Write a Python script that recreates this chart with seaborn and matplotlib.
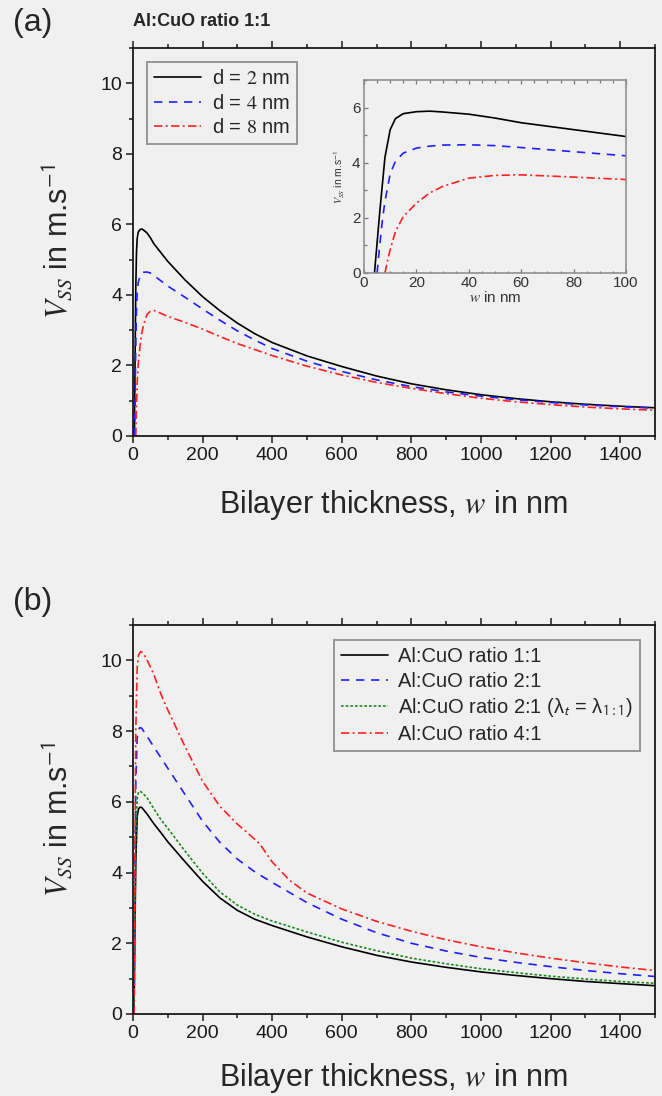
import matplotlib.pyplot as plt
import seaborn as sns
from matplotlib.ticker import MultipleLocator

w_d2 = [4, 6, 8, 10, 12, 15, 20, 25, 30, 40, 50, 60, 80, 100, 150, 200, 250, 300, 350, 400,
        500, 600, 700, 800, 900, 1000, 1100, 1200, 1300, 1400, 1500]
v_d2 = [0, 2.2, 4.2, 5.2, 5.6, 5.78, 5.85, 5.87, 5.84, 5.76, 5.62, 5.45, 5.2, 4.95, 4.42, 3.95,
        3.55, 3.2, 2.9, 2.65, 2.27, 1.97, 1.7, 1.48, 1.31, 1.17, 1.06, 0.97, 0.9, 0.845, 0.80]

w_d4 = [5, 6, 7, 8, 10, 12, 15, 20, 25, 30, 40, 50, 60, 80, 100, 150, 200, 250, 300, 350, 400,
        500, 600, 700, 800, 900, 1000, 1100, 1200, 1300, 1400, 1500]
v_d4 = [0, 1.0, 1.9, 2.6, 3.6, 4.05, 4.35, 4.53, 4.6, 4.64, 4.65, 4.62, 4.55, 4.4, 4.25, 3.93,
        3.6, 3.28, 2.98, 2.72, 2.48, 2.12, 1.83, 1.59, 1.4, 1.25, 1.13, 1.03, 0.95, 0.88, 0.83, 0.79]

w_d8 = [8, 9, 10, 12, 15, 20, 25, 30, 40, 50, 60, 75, 100, 150, 200, 250, 300, 400, 500, 600,
        700, 800, 900, 1000, 1100, 1200, 1300, 1400, 1500]
v_d8 = [0, 0.45, 0.85, 1.5, 2.05, 2.53, 2.9, 3.14, 3.44, 3.54, 3.56, 3.5, 3.39, 3.22, 3.03, 2.82,
        2.62, 2.28, 1.98, 1.73, 1.52, 1.35, 1.2, 1.07, 0.97, 0.89, 0.82, 0.77, 0.73]

# Panel (b): different Al:CuO ratios
w_ratio = [3, 5, 8, 12, 16, 20, 25, 40, 60, 80, 100, 150, 200, 250, 300, 350, 400, 500, 600,
           700, 800, 900, 1000, 1100, 1200, 1300, 1400, 1500]
v_11 = [0, 2.0, 4.3, 5.6, 5.8, 5.85, 5.84, 5.66, 5.38, 5.13, 4.87, 4.3, 3.75, 3.28, 2.93, 2.68,
        2.5, 2.18, 1.9, 1.66, 1.47, 1.32, 1.19, 1.09, 1.0, 0.92, 0.86, 0.80]
v_21 = [0, 3.5, 6.5, 7.8, 8.05, 8.1, 8.08, 7.86, 7.55, 7.25, 6.95, 6.2, 5.45, 4.85, 4.38, 4.02,
        3.72, 3.15, 2.68, 2.3, 2.0, 1.78, 1.6, 1.46, 1.34, 1.23, 1.14, 1.06]
v_21_lam = [0, 2.5, 5.0, 6.1, 6.28, 6.3, 6.27, 6.12, 5.8, 5.5, 5.25, 4.6, 3.98, 3.45, 3.08, 2.82,
            2.63, 2.32, 2.03, 1.79, 1.58, 1.42, 1.28, 1.17, 1.07, 0.99, 0.92, 0.87]

w_41 = [3, 5, 8, 12, 16, 22, 30, 45, 60, 80, 100, 150, 200, 250, 300, 350, 365, 400, 450, 500,
        600, 700, 800, 900, 1000, 1100, 1200, 1300, 1400, 1500]
v_41 = [0, 4.0, 8.0, 9.8, 10.15, 10.25, 10.2, 9.92, 9.6, 9.05, 8.6, 7.55, 6.58, 5.87, 5.37, 4.94,
        4.8, 4.3, 3.78, 3.42, 2.97, 2.62, 2.34, 2.1, 1.9, 1.73, 1.58, 1.45, 1.33, 1.23]

BG = '#f0f0f0'
sns.set_theme(style='ticks')
plt.rcParams['font.family'] = ['Liberation Sans', 'DejaVu Sans']
plt.rcParams['mathtext.fontset'] = 'stix'
plt.rcParams['figure.facecolor'] = BG
plt.rcParams['axes.facecolor'] = BG
plt.rcParams['savefig.facecolor'] = BG

SOLID = '-'
DASH = (0, (5, 4))
DOT = (0, (1.6, 1.2))
DASHDOT = (0, (5, 2, 1.2, 2))

XLABEL = r'Bilayer thickness, $w$ in nm'
YLABEL = r'$V_{SS}$ in m.s$^{\mathsf{-1}}$'


def draw(ax, w, v, color, ls, label=None, lw=1.2):
    sns.lineplot(x=w, y=v, ax=ax, color=color, linestyle=ls, linewidth=lw,
                 label=label, estimator=None, errorbar=None, sort=False, legend=False)


def style_main(ax, xlab_y):
    ax.set_xlim(0, 1500)
    ax.set_ylim(0, 11)
    ax.xaxis.set_major_locator(MultipleLocator(200))
    ax.xaxis.set_minor_locator(MultipleLocator(100))
    ax.yaxis.set_major_locator(MultipleLocator(2))
    ax.yaxis.set_minor_locator(MultipleLocator(1))
    ax.tick_params(which='both', direction='out', top=True, right=False, labeltop=False,
                   color='#1a1a1a', labelcolor='#1a1a1a', width=1.1, labelsize=14, pad=3)
    ax.tick_params(which='major', length=4.7)
    ax.tick_params(which='minor', length=2.9)
    for s in ax.spines.values():
        s.set_color('#1a1a1a')
        s.set_linewidth(1.3)
    ax.set_xlabel(XLABEL, fontsize=22)
    ax.set_ylabel(YLABEL, fontsize=22)
    ax.xaxis.set_label_coords(0.5, xlab_y)
    ax.yaxis.set_label_coords(-0.111, 0.5)


def legend_box(ax, **kw):
    leg = ax.legend(fontsize=14.5, frameon=True, fancybox=False, handlelength=2.35,
                    handletextpad=0.5, borderaxespad=0, labelspacing=0.28, borderpad=0.35, **kw)
    leg.get_frame().set_edgecolor('#808080')
    leg.get_frame().set_linewidth(1.4)
    leg.get_frame().set_facecolor(BG)
    return leg


fig = plt.figure(figsize=(6.62, 10.96), dpi=100)
ax_a = fig.add_axes([133 / 662, 1 - 436 / 1096, 522 / 662, 388 / 1096])
ax_b = fig.add_axes([133 / 662, 1 - 1014 / 1096, 522 / 662, 389 / 1096])
ax_in = fig.add_axes([364 / 662, 1 - 273 / 1096, 262 / 662, 193 / 1096])

# ---- panel (a) ----
draw(ax_a, w_d2, v_d2, 'black', SOLID, r'd = $2$ nm')
draw(ax_a, w_d4, v_d4, '#1f1fff', DASH, r'd = $4$ nm')
draw(ax_a, w_d8, v_d8, '#ff2020', DASHDOT, r'd = $8$ nm')
style_main(ax_a, -0.135)
legend_box(ax_a, loc='upper left', bbox_to_anchor=(0.027, 0.964))

# inset (zoom on the first 100 nm)
draw(ax_in, w_d2, v_d2, 'black', SOLID)
draw(ax_in, w_d4, v_d4, '#1f1fff', DASH)
draw(ax_in, w_d8, v_d8, '#ff2020', DASHDOT)
ax_in.set_xlim(0, 100)
ax_in.set_ylim(0, 7)
ax_in.xaxis.set_major_locator(MultipleLocator(20))
ax_in.xaxis.set_minor_locator(MultipleLocator(5))
ax_in.yaxis.set_major_locator(MultipleLocator(2))
ax_in.yaxis.set_minor_locator(MultipleLocator(1))
ax_in.tick_params(which='both', direction='in', top=True, right=False, labeltop=False,
                  color='#777777', labelcolor='#333333', width=0.9, labelsize=11, pad=2.5)
ax_in.tick_params(which='major', length=3)
ax_in.tick_params(which='minor', length=1.8)
for s in ax_in.spines.values():
    s.set_color('#888888')
    s.set_linewidth(1.1)
ax_in.set_xlabel(r'$w$ in nm', fontsize=11, color='#333333', labelpad=0)
ax_in.set_ylabel(YLABEL, fontsize=7.5, color='#333333')
ax_in.yaxis.set_label_coords(-0.065, 0.5)

# ---- panel (b) ----
draw(ax_b, w_ratio, v_11, 'black', SOLID, 'Al:CuO ratio 1:1')
draw(ax_b, w_ratio, v_21, '#1f1fff', DASH, 'Al:CuO ratio 2:1')
draw(ax_b, w_ratio, v_21_lam, '#1a8a1a', DOT,
     r'Al:CuO ratio 2:1 (λ$_{\mathsf{t}}$ = λ$_{\mathsf{1:1}}$)')
draw(ax_b, w_41, v_41, '#ff2020', DASHDOT, 'Al:CuO ratio 4:1')
style_main(ax_b, -0.12)
legend_box(ax_b, loc='upper right', bbox_to_anchor=(0.971, 0.961))

# panel letters and title
fig.text(13 / 662, 1 - 23 / 1096, '(a)', fontsize=23, ha='left', va='center')
fig.text(13 / 662, 1 - 602 / 1096, '(b)', fontsize=23, ha='left', va='center')
fig.text(133 / 662, 1 - 22 / 1096, 'Al:CuO ratio 1:1', fontsize=13, fontweight='bold',
         ha='left', va='center')

fig.savefig('out.png', dpi=100)
